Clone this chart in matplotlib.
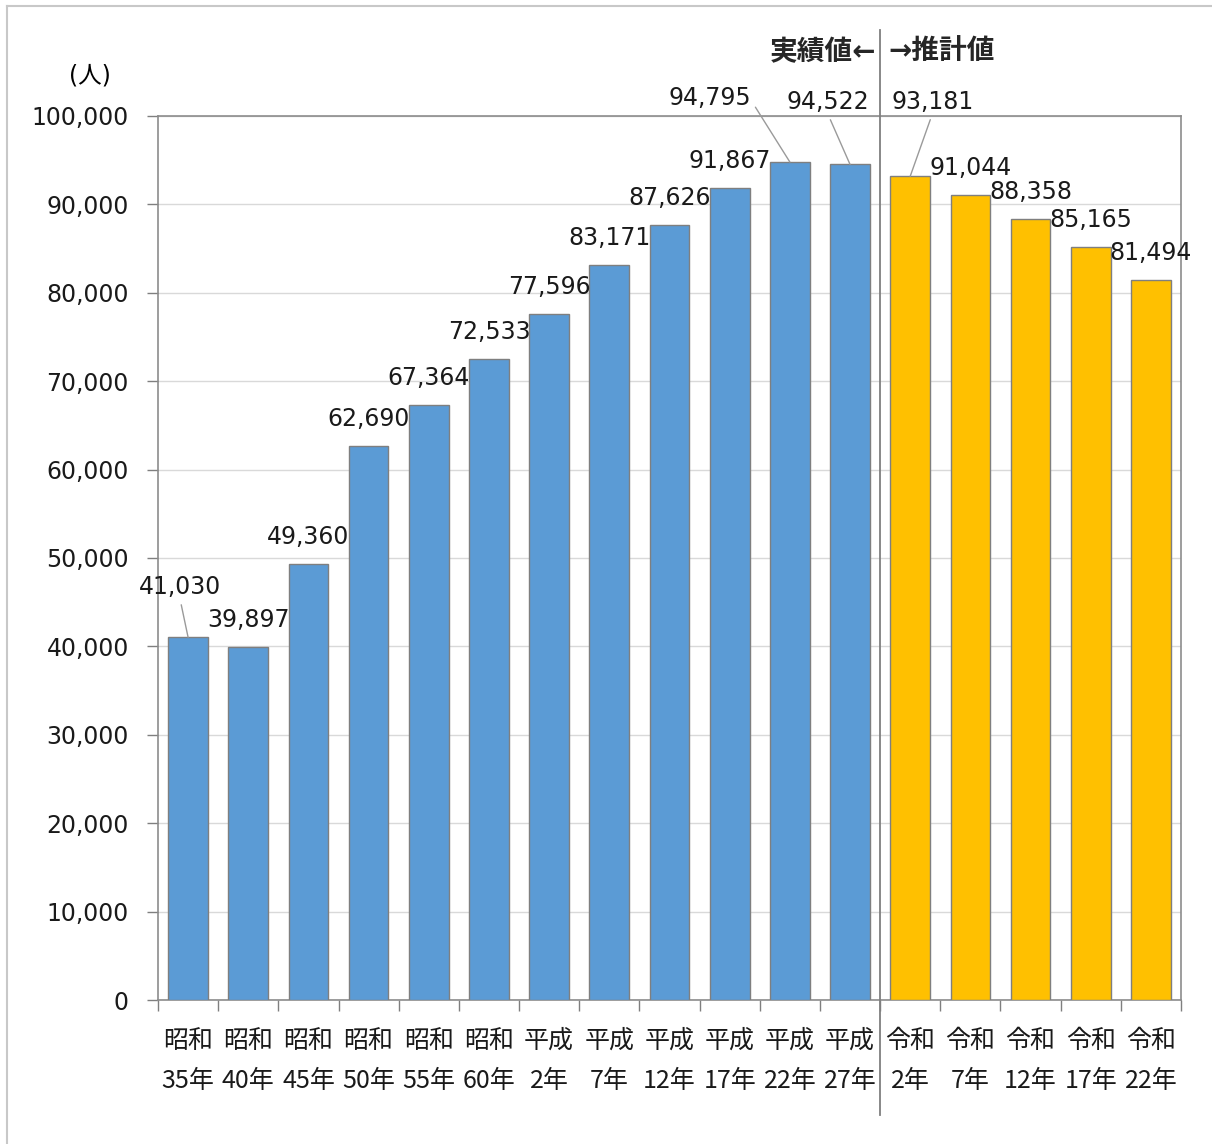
import numpy as np
import matplotlib
matplotlib.use("Agg")
import matplotlib.pyplot as plt
from matplotlib.lines import Line2D

# 数字は DejaVu、漢字は Noto Sans CJK JP で描く
plt.rcParams['font.family'] = ['DejaVu Sans', 'Noto Sans CJK JP']
CJK = ['Noto Sans CJK JP', 'DejaVu Sans']

# 年次ラベル（2段表記）と人口
eras = ["昭和"] * 6 + ["平成"] * 6 + ["令和"] * 5
years = ["35年", "40年", "45年", "50年", "55年", "60年",
         "2年", "7年", "12年", "17年", "22年", "27年",
         "2年", "7年", "12年", "17年", "22年"]
population = [41030, 39897, 49360, 62690, 67364, 72533,
              77596, 83171, 87626, 91867, 94795, 94522,
              93181, 91044, 88358, 85165, 81494]
n_actual = 12  # 平成27年までが実績値、それ以降が推計値

y_ticks = np.arange(0, 100001, 10000)

# ラベル位置（棒の上端からのずれ、ピクセル）と引き出し線の有無
label_offsets = {0: (-8, 50), 10: (-80, 64), 11: (-22, 62), 12: (22, 74)}
leader = {0: (0.5, 0.0), 10: (1.0, 0.4), 11: (0.5, 0.0), 12: (0.5, 0.0)}

BLUE = "#5B9BD5"
ORANGE = "#FFC000"
EDGE = "#7F7F7F"

fig = plt.figure(figsize=(12.12, 11.44), dpi=100)
ax = fig.add_axes([158 / 1212, 1 - 1000 / 1144, (1181 - 158) / 1212, 884 / 1144])

x = np.arange(len(population))
colors = [BLUE if i < n_actual else ORANGE for i in x]
ax.bar(x, population, width=0.66, color=colors, edgecolor=EDGE, linewidth=1.0, zorder=3)

ax.set_xlim(-0.5, len(population) - 0.5)
ax.set_ylim(0, 100000)
ax.set_yticks(y_ticks)
ax.set_yticklabels([f"{v:,}" for v in y_ticks])
ax.yaxis.grid(True, color="#D9D9D9", linewidth=1.0, zorder=0)
ax.set_axisbelow(True)

# 目盛りは区切り位置に、ラベルは各棒の下に
ax.set_xticks(np.arange(-0.5, len(population)), minor=False)
ax.set_xticklabels([])
ax.set_xticks(x, minor=True)
ax.set_xticklabels([f"{e}\n{y}" for e, y in zip(eras, years)], minor=True,
                   fontsize=18, linespacing=1.72, color="#1A1A1A", family=CJK)
ax.tick_params(axis="x", which="major", direction="out", length=8, color=EDGE, width=1)
ax.tick_params(axis="x", which="minor", length=0, pad=20)
ax.tick_params(axis="y", direction="out", length=8, color=EDGE, width=1,
               labelsize=17, pad=13, labelcolor="#1A1A1A")

for s in ax.spines.values():
    s.set_color("#8C8C8C")
    s.set_linewidth(1.2)

# 数値ラベル
for i, v in enumerate(population):
    dx, dy = label_offsets.get(i, (0, 27))
    arrow = None
    if i in leader:
        arrow = dict(arrowstyle="-", color="#9A9A9A", lw=1.0,
                     relpos=leader[i], shrinkA=2, shrinkB=0)
    ax.annotate(f"{v:,}", xy=(i, v), xytext=(dx, dy), textcoords="offset pixels",
                ha="center", va="center", fontsize=17, color="#1A1A1A",
                arrowprops=arrow, zorder=5, annotation_clip=False)

# 実績値と推計値の区切り線
ax.axvline(n_actual - 0.5, ymin=-0.13, ymax=1.097, color="#7F7F7F",
           linewidth=1.3, clip_on=False, zorder=4)
ax.text(n_actual - 0.57, 1.072, "実績値←", transform=ax.get_xaxis_transform(),
        ha="right", va="center", fontsize=20, fontweight="bold", color="#262626")
ax.text(n_actual - 0.36, 1.072, "→推計値", transform=ax.get_xaxis_transform(),
        ha="left", va="center", fontsize=20, fontweight="bold", color="#262626")

fig.text(90 / 1212, 1 - 76 / 1144, "(人)", ha="center", va="center", fontsize=17)

# 外枠
fig.add_artist(Line2D([7 / 1212, 7 / 1212], [0, 1 - 6 / 1144], color="#C8C8C8", lw=1.5))
fig.add_artist(Line2D([7 / 1212, 1], [1 - 6 / 1144, 1 - 6 / 1144], color="#C8C8C8", lw=1.5))

fig.savefig("out.png", dpi=100)
